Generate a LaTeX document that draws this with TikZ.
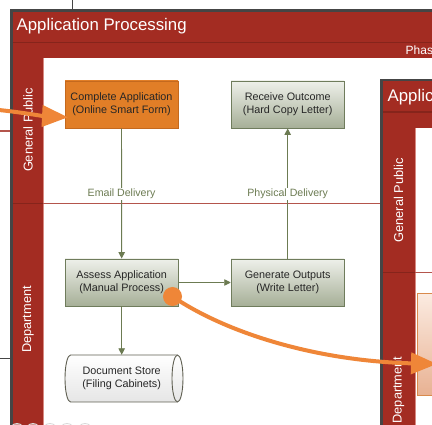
\documentclass[tikz,border=0pt]{standalone}
\usepackage{fontspec}
\setmainfont{Liberation Sans}
\usetikzlibrary{arrows.meta}

\definecolor{poolred}{HTML}{A32C22}
\definecolor{pooldark}{HTML}{86241B}
\definecolor{poolborder}{HTML}{454545}
\definecolor{laneline}{HTML}{B4554C}
\definecolor{laneedge}{HTML}{D88A82}
\definecolor{flowgreen}{HTML}{6C7B52}
\definecolor{taskedge}{HTML}{6F7C5C}
\definecolor{tasktop}{HTML}{EEF0EA}
\definecolor{taskbot}{HTML}{A6AF97}
\definecolor{orangefill}{HTML}{E17E27}
\definecolor{orangeedge}{HTML}{C4691E}
\definecolor{linkorange}{HTML}{EF8638}
\definecolor{textdark}{HTML}{262626}
\definecolor{storeedge}{HTML}{5E5E50}
\definecolor{peachtop}{HTML}{FBEBE1}
\definecolor{peachbot}{HTML}{E8B192}
\definecolor{peachedge}{HTML}{D98A4C}

\begin{document}
\begin{tikzpicture}[x=1pt,y=-1pt,
  pooltitle/.style={anchor=west, text=white, inner sep=0pt, font=\fontsize{16.8}{19}\selectfont},
  phaselabel/.style={anchor=west, text=white, inner sep=0pt, font=\fontsize{12}{14}\selectfont},
  lanelabel/.style={rotate=90, text=white, inner sep=0pt, font=\fontsize{12.8}{15}\selectfont},
  boxtext/.style={align=center, text=textdark, font=\fontsize{10.8}{13}\selectfont},
  task/.style={boxtext, rectangle, draw=taskedge, line width=0.9pt, top color=tasktop,
    bottom color=taskbot, minimum width=113pt, minimum height=47pt, inner sep=2pt},
  usertask/.style={task, fill=orangefill, draw=orangeedge, top color=orangefill, bottom color=orangefill},
  storebody/.style={draw=storeedge, line width=0.9pt, top color=white, bottom color=black!10},
  storetext/.style={boxtext, minimum width=107pt, minimum height=47pt, inner sep=0pt},
  flow/.style={draw=flowgreen, line width=0.9pt, -{Triangle[length=6.5pt 0 0,width=6.5pt 0 0]}},
  flowlabel/.style={text=flowgreen, fill=white, inner sep=1.2pt, font=\fontsize{10.6}{12}\selectfont},
  link/.style={draw=linkorange, line width=4pt, -{Triangle[length=26pt 0 0,width=21pt 0 0]}},
  linkdot/.style={circle, fill=linkorange, minimum size=19pt, inner sep=0pt},
]
\useasboundingbox (0,0) rectangle (432,425);
\clip (0,0) rectangle (432,425);

% stray edges of neighbouring diagram parts
\draw[poolborder, line width=1.6pt] (72.5,0) -- (72.5,10);
\draw[laneline, line width=1.2pt] (0,131) -- (11,131);
\draw[poolborder, line width=1.6pt] (0,358.5) -- (11,358.5);

% ---- main pool: Application Processing ----
\fill[poolborder] (10,9.5) rectangle (445,440);
\fill[poolred] (12.7,12) rectangle (445,58);
\draw[pooldark, line width=1.2pt] (12.7,42.5) -- (445,42.5);
\fill[poolred] (12.7,58) rectangle (43.3,440);
\fill[white] (43.3,58) rectangle (445,440);
\draw[laneedge, line width=0.8pt] (43.7,58) -- (43.7,440);
\draw[pooldark, line width=1.3pt] (12.7,203.5) -- (43.3,203.5);
\draw[laneline, line width=1.3pt] (43.3,203.5) -- (381,203.5);

\node[pooltitle] (title) at (16.5,26.5) {Application Processing};
\node[phaselabel] (phase) at (405.5,50.5) {Phase};
\node[lanelabel] (laneA) at (28,130) {General Public};
\node[lanelabel] (laneB) at (28,319.5) {Department};

% faint page markers along the bottom edge
\foreach \cx in {17,33,50,67,85}
  \draw[gray!30, fill=white, fill opacity=0.5, line width=0.8pt] (\cx,431) circle (7.5);

% tasks
\node[usertask] (complete) at (121.5,104.5) {Complete Application\\(Online Smart Form)};
\node[task] (receive) at (287.7,104.5) {Receive Outcome\\(Hard Copy Letter)};
\node[task] (assess) at (121.7,282.5) {Assess Application\\(Manual Process)};
\node[task] (generate) at (287.7,282.5) {Generate Outputs\\(Write Letter)};

% data store drawn as a lying cylinder
\path[storebody] (177.5,355) -- (70.5,355)
  arc[start angle=270, end angle=90, x radius=5.5, y radius=23.5]
  -- (177.5,402)
  arc[start angle=90, end angle=-90, x radius=5.5, y radius=23.5] -- cycle;
\draw[storeedge, line width=0.9pt] (177.5,402)
  arc[start angle=90, end angle=270, x radius=5.5, y radius=23.5];
\node[storetext] (docstore) at (121.7,378.5) {Document Store\\(Filing Cabinets)};

% sequence flows
\draw[flow] (complete) -- node[flowlabel, pos=0.502] (emaillbl) {Email Delivery} (assess);
\draw[flow] (generate) -- node[flowlabel, pos=0.498] (postlbl) {Physical Delivery} (receive);
\draw[flow] (assess) -- (generate);
\draw[flow] (assess) -- (docstore);

% ---- next pool, partly in view ----
\fill[poolborder] (380,79) rectangle (445,440);
\fill[poolred] (383,81.5) rectangle (445,128.3);
\draw[pooldark, line width=1.2pt] (383,112) -- (445,112);
\fill[poolred] (383,128.3) rectangle (414.5,440);
\fill[white] (414.5,128.3) rectangle (445,440);
\draw[laneedge, line width=0.8pt] (414.9,128.3) -- (414.9,440);
\draw[pooldark, line width=1.3pt] (383,272.7) -- (414.5,272.7);
\draw[laneline, line width=1.3pt] (414.5,272.7) -- (445,272.7);

\node[pooltitle] (title2) at (387.5,97) {Application Processing};
\node[lanelabel] (laneC) at (398.5,200.5) {General Public};
\node[lanelabel] (laneD) at (398.5,390) {Department};
\node[rectangle, draw=peachedge, line width=0.9pt, top color=peachtop, bottom color=peachbot,
  minimum width=40pt, minimum height=102.5pt, inner sep=0pt] (nexttask) at (437.5,344.7) {};

% ---- links between pools ----
\coordinate (fromprev) at (-6,109.5);
\draw[link] (fromprev) .. controls (20,112) and (42,116) .. ([xshift=3.5pt,yshift=-12.8pt]complete.west);

\node[linkdot] (outdot) at (172.5,296.5) {};
\coordinate (tonext) at (437,364);
\draw[link] (outdot.center) .. controls (228,334) and (318,361) .. (tonext);
\end{tikzpicture}
\end{document}
